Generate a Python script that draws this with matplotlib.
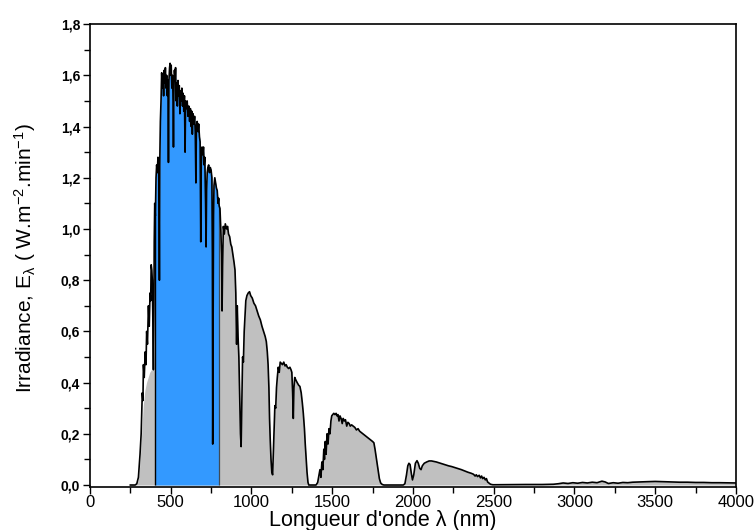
import numpy as np
import matplotlib
matplotlib.use("Agg")
import matplotlib.pyplot as plt
from matplotlib.ticker import MultipleLocator

plt.rcParams['font.family'] = ['Liberation Sans', 'DejaVu Sans']
plt.rcParams['mathtext.fontset'] = 'custom'
plt.rcParams['mathtext.rm'] = 'Liberation Sans'
plt.rcParams['mathtext.it'] = 'Liberation Sans:italic'
plt.rcParams['mathtext.bf'] = 'Liberation Sans:bold'

# ---- spectrum (wavelength nm, irradiance) ----
wavelength = [
    250, 280, 290, 300, 310, 317, 324, 328, 331, 336, 342, 347, 351, 356, 362, 367,
    372, 376, 379, 383, 386, 390, 393, 396, 398, 400, 401, 405, 409, 413, 417, 421,
    425, 428, 430, 432, 436, 440, 444, 448, 452, 456, 460, 463, 467, 471, 475, 479,
    483, 486, 489, 493, 496, 499, 503, 507, 511, 515, 517, 519, 523, 527, 530, 534,
    537, 541, 545, 549, 553, 557, 561, 565, 569, 573, 577, 581, 585, 589, 592, 597,
    602, 607, 612, 617, 622, 627, 630, 634, 638, 643, 648, 652, 656, 659, 664, 669,
    673, 678, 682, 686, 689, 694, 699, 703, 707, 711, 716, 719, 722, 726, 730, 735,
    740, 745, 750, 755, 758, 760, 762, 765, 768, 773, 778, 783, 788, 793, 797, 800,
    805, 810, 815, 818, 821, 826, 832, 838, 846, 852, 858, 865, 872, 878, 885, 892,
    898, 903, 908, 912, 917, 922, 927, 932, 936, 940, 945, 950, 955, 960, 965, 972,
    980, 988, 995, 1005, 1015, 1025, 1035, 1045, 1055, 1065, 1075, 1085, 1092, 1098, 1103, 1108,
    1112, 1116, 1121, 1126, 1131, 1135, 1140, 1145, 1150, 1155, 1160, 1166, 1172, 1178, 1185, 1192,
    1200, 1208, 1215, 1222, 1230, 1238, 1245, 1250, 1255, 1259, 1263, 1268, 1275, 1283, 1292, 1300,
    1308, 1315, 1321, 1328, 1333, 1338, 1344, 1350, 1355, 1400, 1410, 1418, 1424, 1430, 1436, 1442,
    1448, 1452, 1457, 1462, 1468, 1474, 1480, 1486, 1492, 1497, 1503, 1510, 1517, 1524, 1530, 1536,
    1542, 1548, 1555, 1562, 1568, 1575, 1582, 1590, 1597, 1605, 1612, 1620, 1630, 1640, 1650, 1660,
    1670, 1680, 1690, 1700, 1710, 1720, 1730, 1740, 1750, 1758, 1765, 1772, 1778, 1785, 1792, 1800,
    1810, 1820, 1940, 1950, 1960, 1968, 1975, 1982, 1990, 1997, 2005, 2015, 2025, 2033, 2042, 2050,
    2058, 2070, 2085, 2100, 2115, 2130, 2145, 2160, 2180, 2200, 2220, 2240, 2260, 2280, 2300, 2320,
    2340, 2360, 2375, 2385, 2392, 2400, 2410, 2418, 2425, 2432, 2440, 2448, 2455, 2462, 2470, 2480,
    2495, 2600, 2700, 2800, 2870, 2900, 2930, 2960, 2990, 3020, 3050, 3080, 3110, 3140, 3170, 3190,
    3210, 3240, 3270, 3300, 3330, 3360, 3400, 3450, 3500, 3550, 3600, 3650, 3700, 3750, 3800, 3850,
    3900, 3950, 4000,
]
irradiance = [
    0.0, 0.0, 0.005, 0.03, 0.12, 0.2, 0.36, 0.33, 0.47, 0.42, 0.52, 0.47, 0.6, 0.55, 0.7, 0.62,
    0.75, 0.72, 0.86, 0.84, 0.8, 0.62, 0.45, 0.7, 0.95, 1.05, 1.1, 1.05, 1.2, 1.25, 1.22, 1.28,
    1.26, 1.1, 0.8, 1.25, 1.42, 1.5, 1.61, 1.55, 1.6, 1.52, 1.62, 1.57, 1.63, 1.55, 1.6, 1.52,
    1.58, 1.26, 1.58, 1.63, 1.647, 1.6, 1.64, 1.55, 1.6, 1.5, 1.32, 1.52, 1.62, 1.58, 1.63, 1.5,
    1.57, 1.48, 1.58, 1.52, 1.56, 1.45, 1.54, 1.5, 1.55, 1.48, 1.53, 1.46, 1.52, 1.3, 1.5, 1.47,
    1.5, 1.44, 1.48, 1.42, 1.47, 1.4, 1.46, 1.37, 1.45, 1.41, 1.44, 1.38, 1.18, 1.4, 1.42, 1.38,
    1.41, 1.36, 1.34, 0.95, 1.25, 1.32, 1.29, 1.32, 1.25, 1.28, 1.1, 0.93, 1.15, 1.22, 1.24, 1.25,
    1.22, 1.24, 1.23, 1.2, 0.9, 0.16, 0.5, 1.05, 1.17, 1.2, 1.18, 1.16, 1.15, 1.1, 1.12, 1.09,
    1.08, 1.0, 0.9, 0.68, 0.85, 1.01, 0.98, 1.02, 1.0, 1.01, 0.98, 0.97, 0.94, 0.93, 0.9, 0.87,
    0.84, 0.75, 0.55, 0.7, 0.58, 0.5, 0.35, 0.2, 0.15, 0.3, 0.5, 0.48, 0.6, 0.66, 0.72, 0.74,
    0.75, 0.755, 0.74, 0.73, 0.71, 0.7, 0.68, 0.66, 0.645, 0.62, 0.6, 0.58, 0.56, 0.52, 0.47, 0.38,
    0.26, 0.18, 0.1, 0.05, 0.04, 0.12, 0.22, 0.31, 0.3, 0.38, 0.42, 0.46, 0.44, 0.48, 0.475, 0.47,
    0.48, 0.465, 0.47, 0.46, 0.455, 0.46, 0.45, 0.44, 0.36, 0.26, 0.38, 0.42, 0.41, 0.4, 0.39, 0.385,
    0.36, 0.32, 0.28, 0.22, 0.16, 0.11, 0.05, 0.01, 0.0, 0.0, 0.01, 0.04, 0.06, 0.03, 0.09, 0.06,
    0.14, 0.1, 0.17, 0.12, 0.2, 0.16, 0.22, 0.2, 0.25, 0.27, 0.275, 0.28, 0.275, 0.28, 0.27, 0.275,
    0.25, 0.27, 0.26, 0.24, 0.26, 0.25, 0.255, 0.23, 0.245, 0.24, 0.23, 0.235, 0.23, 0.225, 0.215, 0.22,
    0.21, 0.205, 0.2, 0.195, 0.19, 0.185, 0.18, 0.175, 0.17, 0.165, 0.14, 0.11, 0.085, 0.055, 0.025, 0.008,
    0.002, 0.0, 0.0, 0.005, 0.04, 0.075, 0.085, 0.08, 0.045, 0.02, 0.04, 0.085, 0.095, 0.085, 0.065, 0.06,
    0.075, 0.085, 0.09, 0.094, 0.094, 0.092, 0.09, 0.087, 0.083, 0.079, 0.075, 0.072, 0.068, 0.064, 0.06, 0.055,
    0.05, 0.046, 0.042, 0.035, 0.04, 0.033, 0.038, 0.028, 0.035, 0.025, 0.03, 0.02, 0.025, 0.012, 0.008, 0.003,
    0.001, 0.0015, 0.002, 0.002, 0.003, 0.005, 0.008, 0.006, 0.009, 0.007, 0.01, 0.008, 0.011, 0.009, 0.015, 0.012,
    0.006, 0.009, 0.007, 0.01, 0.009, 0.011, 0.012, 0.013, 0.014, 0.013, 0.012, 0.011, 0.011, 0.01, 0.01, 0.009,
    0.009, 0.0085, 0.008,
]

# grey area under the UV part (drawn lower than the measured line)
uv_fill_wavelength = [280, 290, 300, 310, 320, 330, 340, 350, 360, 370, 380, 390, 400]
uv_fill_irradiance = [0.0, 0.005, 0.02, 0.09, 0.2, 0.31, 0.37, 0.4, 0.42, 0.44, 0.45, 0.45, 0.45]

visible_band = [400, 800]

x_ticks = [0, 500, 1000, 1500, 2000, 2500, 3000, 3500, 4000]
x_tick_labels = ['0', '500', '1000', '1500', '2000', '2500', '3000', '3500', '4000']
y_ticks = [0.0, 0.2, 0.4, 0.6, 0.8, 1.0, 1.2, 1.4, 1.6, 1.8]
y_tick_labels = ['0,0', '0,2', '0,4', '0,6', '0,8', '1,0', '1,2', '1,4', '1,6', '1,8']

wl = np.array(wavelength, dtype=float)
E = np.array(irradiance, dtype=float)

fig = plt.figure(figsize=(7.56, 5.30), dpi=100)
ax = fig.add_axes([0.119, 0.081, 0.8545, 0.8735])

grey = '#c0c0c0'
blue = '#3399ff'

ax.fill_between(uv_fill_wavelength, uv_fill_irradiance, 0, color=grey, lw=0, zorder=1)
m = wl >= visible_band[0]
ax.fill_between(wl[m], E[m], 0, color=grey, lw=0, zorder=1)
mb = (wl >= visible_band[0]) & (wl <= visible_band[1])
ax.fill_between(wl[mb], E[mb], 0, color=blue, lw=0, zorder=2)
e_edges = np.interp(visible_band, wl, E)
ax.vlines([visible_band[0]], 0, [e_edges[0]], color='black', lw=1.0, zorder=3)
ax.vlines([visible_band[1]], 0, [e_edges[1]], color='#404a55', lw=0.9, zorder=3)

ax.plot(wl, E, color='black', lw=1.2, zorder=4)

ax.set_xlim(0, 4000)
ax.set_ylim(-0.008, 1.8)

ax.set_xticks(x_ticks)
ax.set_xticklabels(x_tick_labels, fontsize=12)
ax.xaxis.set_minor_locator(MultipleLocator(250))
ax.set_yticks(y_ticks)
ax.set_yticklabels(y_tick_labels, fontsize=10, fontweight='bold')
ax.yaxis.set_minor_locator(MultipleLocator(0.1))

ax.tick_params(axis='x', which='major', direction='out', length=5, width=1.0, pad=1)
ax.tick_params(axis='y', which='major', direction='out', length=5, width=1.0, pad=2)
ax.tick_params(axis='both', which='minor', direction='out', length=4, width=1.0)
for s in ax.spines.values():
    s.set_linewidth(1.2)
    s.set_zorder(5)

ax.set_xlabel("Longueur d'onde λ (nm)", fontsize=15.5)
ax.xaxis.set_label_coords(0.453, -0.049)
ax.set_ylabel(r'Irradiance, E$_{\mathrm{λ}}$ ( W.m$^{\mathrm{-2}}$.min$^{\mathrm{-1}}$)', fontsize=15)
ax.yaxis.set_label_coords(-0.080, 0.495)

fig.savefig('out.png', dpi=100)
